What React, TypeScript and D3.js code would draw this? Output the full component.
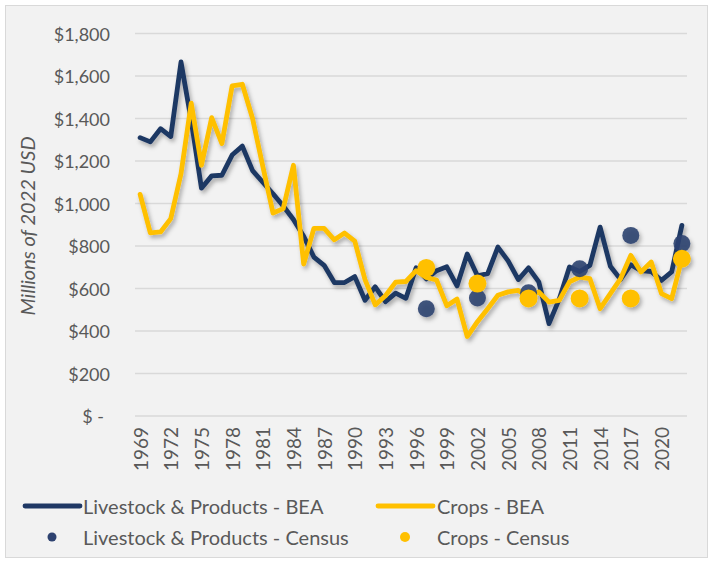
import React from "react";
import * as d3 from "d3";

const years = [
  1969, 1970, 1971, 1972, 1973, 1974, 1975, 1976, 1977, 1978, 1979, 1980, 1981, 1982,
  1983, 1984, 1985, 1986, 1987, 1988, 1989, 1990, 1991, 1992, 1993, 1994, 1995, 1996,
  1997, 1998, 1999, 2000, 2001, 2002, 2003, 2004, 2005, 2006, 2007, 2008, 2009, 2010,
  2011, 2012, 2013, 2014, 2015, 2016, 2017, 2018, 2019, 2020, 2021, 2022,
];

const livestockBEA = [
  1310, 1290, 1352, 1315, 1666, 1390, 1072, 1130, 1133, 1228, 1270, 1155, 1100, 1046,
  988, 925, 846, 748, 709, 628, 628, 656, 545, 608, 538, 578, 554, 698,
  645, 684, 702, 612, 762, 660, 670, 795, 730, 642, 697, 631, 435, 550,
  701, 680, 709, 889, 705, 643, 712, 684, 680, 638, 678, 897,
];

const cropsBEA = [
  1043, 862, 866, 929, 1140, 1472, 1180, 1404, 1282, 1553, 1561, 1400, 1175, 955,
  976, 1180, 715, 883, 883, 829, 861, 823, 642, 523, 566, 630, 633, 684,
  652, 640, 519, 550, 374, 444, 505, 568, 584, 591, 560, 584, 536, 544,
  631, 654, 646, 505, 576, 646, 756, 678, 725, 576, 552, 740,
];

const censusYears = [1997, 2002, 2007, 2012, 2017, 2022];
const livestockCensus = [505, 555, 580, 693, 850, 812];
const cropsCensus = [697, 623, 553, 553, 553, 740];

const yTicks = [0, 200, 400, 600, 800, 1000, 1200, 1400, 1600, 1800];
const yearLabels = [1969, 1972, 1975, 1978, 1981, 1984, 1987, 1990, 1993, 1996, 1999, 2002, 2005, 2008, 2011, 2014, 2017, 2020];

const NAVY = "#1f3864";
const NAVY_DOT = "#2e4270";
const GOLD = "#ffc000";
const TEXT = "#595959";
const FONT = "Lato, 'Noto Sans', sans-serif";

export default function App() {
  const W = 713;
  const H = 563;
  const x = d3.scalePoint<number>().domain(years).range([135, 687]).padding(0.5);
  const y = d3.scaleLinear().domain([0, 1800]).range([416, 33.5]);
  const fmt = d3.format("$,");

  const line = d3
    .line<number>()
    .x((_, i) => x(years[i]) as number)
    .y((d) => y(d));

  return (
    <svg
      width={W}
      height={H}
      style={{ position: "absolute", left: 0, top: 0, background: "#ffffff" }}
      fontFamily={FONT}
    >
      <defs>
        <filter id="shadow" x="-10%" y="-10%" width="130%" height="130%">
          <feDropShadow dx="2" dy="3" stdDeviation="2" floodColor="#000" floodOpacity="0.3" />
        </filter>
      </defs>
      <rect x={5.5} y={5.5} width={702} height={552} fill="#f2f2f2" stroke="#d9d9d9" strokeWidth={1} />

      {yTicks.map((t) => (
        <g key={t}>
          <line x1={135} x2={687} y1={y(t)} y2={y(t)} stroke="#d9d9d9" strokeWidth={1.5} />
          <text
            x={t === 0 ? 104 : 110}
            y={y(t)}
            textAnchor="end"
            dominantBaseline="central"
            fontSize={18}
            fill={TEXT}
          >
            {t === 0 ? "$ -" : fmt(t)}
          </text>
        </g>
      ))}

      {yearLabels.map((yr) => (
        <text
          key={yr}
          transform={`translate(${x(yr)},427) rotate(-90)`}
          textAnchor="end"
          dominantBaseline="central"
          fontSize={19}
          fill={TEXT}
        >
          {yr}
        </text>
      ))}

      <text
        transform="translate(27,226) rotate(-90)"
        textAnchor="middle"
        dominantBaseline="central"
        fontSize={20}
        fontStyle="italic"
        fill={TEXT}
      >
        Millions of 2022 USD
      </text>

      <g filter="url(#shadow)">
        <path d={line(livestockBEA) as string} fill="none" stroke={NAVY} strokeWidth={4.8} strokeLinejoin="round" strokeLinecap="round" />
        <path d={line(cropsBEA) as string} fill="none" stroke={GOLD} strokeWidth={4.8} strokeLinejoin="round" strokeLinecap="round" />
        {censusYears.map((yr, i) => (
          <circle key={"l" + yr} cx={x(yr)} cy={y(livestockCensus[i])} r={8.5} fill={NAVY_DOT} fillOpacity={0.9} />
        ))}
        {censusYears.map((yr, i) => (
          <circle key={"c" + yr} cx={x(yr)} cy={y(cropsCensus[i])} r={9} fill={GOLD} />
        ))}
      </g>

      {/* Legend */}
      <line x1={25} x2={80} y1={506} y2={506} stroke={NAVY} strokeWidth={4.8} strokeLinecap="round" />
      <text x={83} y={506} dominantBaseline="central" fontSize={20} fill={TEXT}>
        Livestock &amp; Products - BEA
      </text>
      <line x1={378} x2={433} y1={506} y2={506} stroke={GOLD} strokeWidth={4.8} strokeLinecap="round" />
      <text x={437} y={506} dominantBaseline="central" fontSize={20} fill={TEXT}>
        Crops - BEA
      </text>
      <circle cx={52} cy={537} r={4.5} fill={NAVY_DOT} />
      <text x={83} y={537} dominantBaseline="central" fontSize={20} fill={TEXT}>
        Livestock &amp; Products - Census
      </text>
      <circle cx={405} cy={537} r={5} fill={GOLD} />
      <text x={437} y={537} dominantBaseline="central" fontSize={20} fill={TEXT}>
        Crops - Census
      </text>
    </svg>
  );
}
